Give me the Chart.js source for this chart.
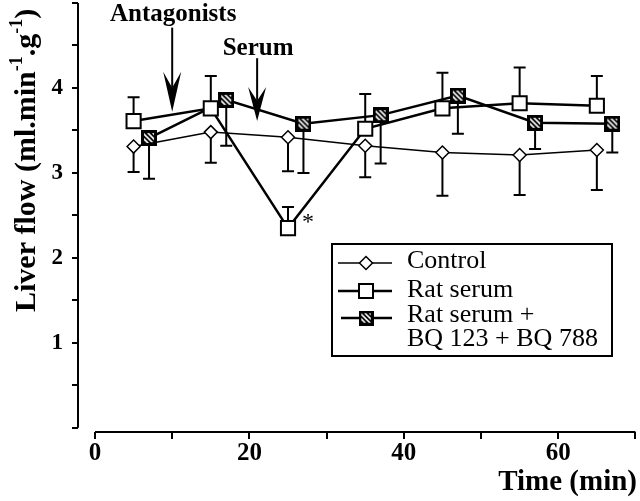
<!DOCTYPE html>
<html>
<head>
<meta charset="utf-8">
<script src="https://cdn.jsdelivr.net/npm/chart.js@4.4.1/dist/chart.umd.min.js"></script>
<style>
  html, body { margin: 0; padding: 0; background: #fff; }
  #wrap { width: 640px; height: 501px; }
</style>
</head>
<body>
<div id="wrap"><canvas id="grafica"></canvas></div>
<script>
// datos
const tiempoControl = [5, 15, 25, 35, 45, 55, 65];
const control = [3.31, 3.48, 3.42, 3.32, 3.24, 3.21, 3.27];
const controlErr = [0.30, 0.36, 0.40, 0.37, 0.51, 0.47, 0.47];

const tiempoSuero = [5, 15, 25, 35, 45, 55, 65];
const suero = [3.61, 3.76, 2.35, 3.52, 3.76, 3.82, 3.79];
const sueroErr = [0.28, 0.38, 0.25, 0.41, 0.42, 0.42, 0.35];

const tiempoBQ = [7, 17, 27, 37, 47, 57, 67];
const sueroBQ = [3.41, 3.86, 3.58, 3.68, 3.91, 3.59, 3.58];
const sueroBQErr = [0.48, 0.54, 0.58, 0.57, 0.45, 0.31, 0.34];

const xTicks = [0, 10, 20, 30, 40, 50, 60, 70];
const xLabels = [0, 20, 40, 60];
const yTicks = [0, 0.5, 1, 1.5, 2, 2.5, 3, 3.5, 4, 4.5, 5];
const yLabels = [1, 2, 3, 4];

const leyenda = ['Control', 'Rat serum', 'Rat serum +', 'BQ 123 + BQ 788'];

// flechas: tiempo, texto, y del texto, y de arriba, y de la punta
const flechas = [
  { t: 10, texto: 'Antagonists', yTexto: 4.79, yArriba: 4.71, yPunta: 3.72, largo: 40 },
  { t: 21, texto: 'Serum', yTexto: 4.39, yArriba: 4.35, yPunta: 3.61, largo: 34 }
];

const serif = "'Liberation Serif', 'Times New Roman', serif";

function puntos(xs, ys) {
  return xs.map((x, i) => ({ x: x, y: ys[i] }));
}

// cuadrado rayado para la serie con antagonistas
function crearRayado(size) {
  const c = document.createElement('canvas');
  c.width = size; c.height = size;
  const g = c.getContext('2d');
  g.fillStyle = '#000';
  g.fillRect(0, 0, size, size);
  g.save();
  g.beginPath();
  g.rect(3, 3, size - 6, size - 6);
  g.clip();
  g.strokeStyle = '#fff';
  g.lineWidth = 1.6;
  for (let k = -size; k < size * 2; k += 5) {
    g.beginPath();
    g.moveTo(k, 0);
    g.lineTo(k + size, size);
    g.stroke();
  }
  g.restore();
  return c;
}
const rayado = crearRayado(16);

// fondo blanco
const fondo = {
  id: 'fondo',
  beforeDraw(chart) {
    const ctx = chart.ctx;
    ctx.save();
    ctx.fillStyle = '#fff';
    ctx.fillRect(0, 0, chart.width, chart.height);
    ctx.restore();
  }
};

// ejes y barras de error
const ejesYErrores = {
  id: 'ejesYErrores',
  beforeDatasetsDraw(chart) {
    const { ctx, chartArea, scales: { x, y } } = chart;
    ctx.save();
    ctx.strokeStyle = '#000';
    ctx.lineWidth = 2;
    ctx.beginPath();
    ctx.moveTo(x.getPixelForValue(0), chartArea.bottom);
    ctx.lineTo(x.getPixelForValue(70), chartArea.bottom);
    ctx.moveTo(chartArea.left, y.getPixelForValue(0));
    ctx.lineTo(chartArea.left, y.getPixelForValue(5));
    ctx.stroke();

    chart.data.datasets.forEach((ds) => {
      ds.data.forEach((p, i) => {
        const px = x.getPixelForValue(p.x);
        const py0 = y.getPixelForValue(p.y);
        const py1 = y.getPixelForValue(p.y + ds.errDir * ds.errores[i]);
        ctx.beginPath();
        ctx.moveTo(px, py0);
        ctx.lineTo(px, py1);
        ctx.moveTo(px - 6, py1);
        ctx.lineTo(px + 6, py1);
        ctx.stroke();
      });
    });
    ctx.restore();
  }
};

function marcador(ctx, estilo, x, y) {
  ctx.save();
  ctx.fillStyle = '#fff';
  ctx.strokeStyle = '#000';
  if (estilo === 'rectRot') {
    ctx.lineWidth = 1.5;
    ctx.beginPath();
    ctx.moveTo(x, y - 6.5); ctx.lineTo(x + 6.5, y); ctx.lineTo(x, y + 6.5); ctx.lineTo(x - 6.5, y);
    ctx.closePath(); ctx.fill(); ctx.stroke();
  } else if (estilo === 'rect') {
    ctx.lineWidth = 2;
    ctx.fillRect(x - 7, y - 7, 14, 14);
    ctx.strokeRect(x - 7, y - 7, 14, 14);
  } else {
    ctx.drawImage(estilo, x - 7.5, y - 7.5, 15, 15);
  }
  ctx.restore();
}

// anotaciones, leyenda y titulo del eje y
const anotaciones = {
  id: 'anotaciones',
  afterDraw(chart) {
    const { ctx, scales: { x, y } } = chart;
    ctx.save();
    ctx.fillStyle = '#000';
    ctx.strokeStyle = '#000';

    // flechas
    flechas.forEach((f) => {
      const px = x.getPixelForValue(f.t);
      const top = y.getPixelForValue(f.yArriba);
      const tip = y.getPixelForValue(f.yPunta);
      ctx.lineWidth = 2;
      ctx.beginPath();
      ctx.moveTo(px, top);
      ctx.lineTo(px, tip - f.largo * 0.6);
      ctx.stroke();
      ctx.beginPath();
      ctx.moveTo(px, tip);
      ctx.lineTo(px - 9, tip - f.largo);
      ctx.lineTo(px, tip - f.largo * 0.6);
      ctx.lineTo(px + 9, tip - f.largo);
      ctx.closePath();
      ctx.fill();
      ctx.font = 'bold 25px ' + serif;
      ctx.textAlign = 'center';
      ctx.textBaseline = 'alphabetic';
      ctx.fillText(f.texto, px + 1, y.getPixelForValue(f.yTexto));
    });

    // asterisco junto al minimo
    const ax = x.getPixelForValue(tiempoSuero[2]);
    const ay = y.getPixelForValue(suero[2]);
    ctx.font = '24px ' + serif;
    ctx.textAlign = 'left';
    ctx.fillText('*', ax + 14, ay + 1);

    // leyenda
    ctx.lineWidth = 2;
    ctx.strokeRect(332, 244, 280, 112);
    const filas = [263, 291, 318];
    chart.data.datasets.forEach((ds, i) => {
      ctx.lineWidth = i === 0 ? 1.5 : 2.5;
      ctx.beginPath();
      ctx.moveTo(i === 2 ? 341 : 338, filas[i]);
      ctx.lineTo(392, filas[i]);
      ctx.stroke();
      marcador(ctx, ds.pointStyle, 366, filas[i]);
    });
    ctx.font = '26px ' + serif;
    ctx.textAlign = 'left';
    ctx.fillStyle = '#000';
    const bases = [268, 297, 322, 346];
    leyenda.forEach((txt, i) => ctx.fillText(txt, 407, bases[i]));

    // titulo del eje y con superindices
    const partes = [
      { t: 'Liver flow (ml.min' }, { t: '-1', sup: true }, { t: '.g' }, { t: '-1', sup: true }, { t: ')' }
    ];
    ctx.translate(35, 312);
    ctx.rotate(-Math.PI / 2);
    let cx = 0;
    partes.forEach((p) => {
      ctx.font = 'bold ' + (p.sup ? 18 : 30) + 'px ' + serif;
      ctx.fillText(p.t, cx, p.sup ? -13 : 0);
      cx += ctx.measureText(p.t).width;
    });
    ctx.restore();
  }
};

function sinRelleno(s) {
  s.paddingTop = 0;
  s.paddingBottom = 0;
  s.paddingLeft = 0;
  s.paddingRight = 0;
}

const ctx = document.getElementById('grafica').getContext('2d');
new Chart(ctx, {
  type: 'line',
  data: {
    datasets: [
      {
        label: leyenda[0],
        data: puntos(tiempoControl, control),
        errores: controlErr, errDir: -1,
        borderColor: '#000', borderWidth: 1.5,
        pointStyle: 'rectRot', pointRadius: 6.5,
        pointBackgroundColor: '#fff', pointBorderColor: '#000', pointBorderWidth: 1.5
      },
      {
        label: leyenda[1],
        data: puntos(tiempoSuero, suero),
        errores: sueroErr, errDir: 1,
        borderColor: '#000', borderWidth: 2.5,
        pointStyle: 'rect', pointRadius: 10,
        pointBackgroundColor: '#fff', pointBorderColor: '#000', pointBorderWidth: 2
      },
      {
        label: leyenda[2] + ' ' + leyenda[3],
        data: puntos(tiempoBQ, sueroBQ),
        errores: sueroBQErr, errDir: -1,
        borderColor: '#000', borderWidth: 2.5,
        pointStyle: rayado, pointRadius: 8
      }
    ]
  },
  options: {
    responsive: true,
    maintainAspectRatio: false,
    animation: false,
    layout: { autoPadding: false, padding: { top: 3, right: 3, left: 0, bottom: 0 } },
    plugins: { legend: { display: false }, tooltip: { enabled: false } },
    scales: {
      x: {
        type: 'linear',
        min: -2.2,
        max: 70.2,
        afterBuildTicks: (s) => { s.ticks = xTicks.map((v) => ({ value: v })); },
        afterFit: (s) => { s.height = 69; sinRelleno(s); },
        border: { display: false },
        grid: { drawOnChartArea: false, drawTicks: true, tickLength: 7, color: '#000', lineWidth: 2 },
        ticks: {
          autoSkip: false, maxRotation: 0, padding: 0, color: '#000',
          font: { family: serif, size: 25, weight: 'bold' },
          callback: (v) => (xLabels.includes(v) ? String(v) : '')
        },
        title: {
          display: true, text: 'Time (min)', align: 'end', color: '#000',
          font: { family: serif, size: 29, weight: 'bold' },
          padding: { top: 0, bottom: 1 }
        }
      },
      y: {
        min: -0.05,
        max: 5,
        afterBuildTicks: (s) => { s.ticks = yTicks.map((v) => ({ value: v })); },
        afterFit: (s) => { s.width = 78; sinRelleno(s); },
        border: { display: false },
        grid: { drawOnChartArea: false, drawTicks: true, tickLength: 6, color: '#000', lineWidth: 2 },
        ticks: {
          autoSkip: false, padding: 9, color: '#000',
          font: { family: serif, size: 23, weight: 'bold' },
          callback: (v) => (yLabels.includes(v) ? String(v) : '')
        }
      }
    }
  },
  plugins: [fondo, ejesYErrores, anotaciones]
});
</script>
</body>
</html>
